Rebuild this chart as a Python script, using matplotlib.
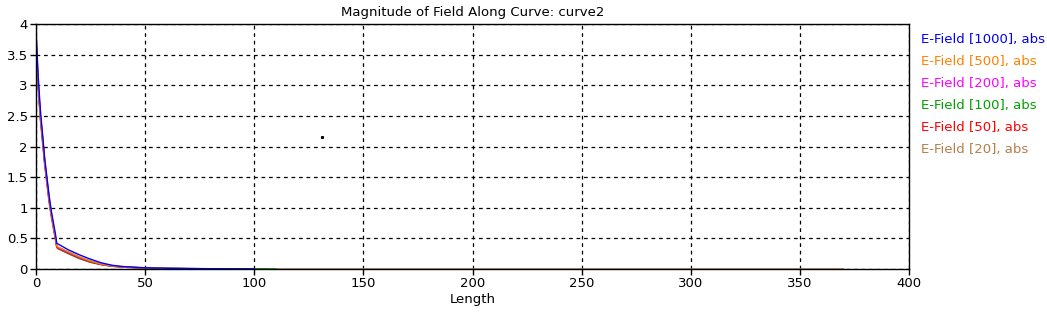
import matplotlib
matplotlib.use("Agg")
from matplotlib import pyplot as plt

plt.rcParams['font.family'] = ['DejaVu Sans']

# sample positions along the curve (Length)
length = [0, 1, 2, 3, 4, 5, 6, 7, 8, 9, 9.5, 10, 12, 15, 20, 25, 30, 35, 40,
          45, 50, 60, 70, 80, 90, 100, 106, 110, 150, 200, 250, 300, 370]

# |E| per mesh setting
e_1000 = [3.9, 3.15, 2.6, 2.2, 1.8, 1.5, 1.2, 0.95, 0.75, 0.55, 0.42, 0.41, 0.37, 0.31, 0.23,
          0.16, 0.1, 0.06, 0.04, 0.03, 0.02, 0.012, 0.008, 0.005, 0.003, 0.002]
e_500 = [3.8, 3.05, 2.5, 2.15, 1.75, 1.45, 1.15, 0.9, 0.7, 0.5, 0.38, 0.36, 0.33, 0.28, 0.2,
         0.13, 0.08, 0.05, 0.035, 0.025, 0.018, 0.01]
e_200 = [3.8, 3.05, 2.5, 2.15, 1.75, 1.45, 1.15, 0.9, 0.7, 0.5, 0.37, 0.35, 0.32, 0.27, 0.19,
         0.13, 0.08, 0.05, 0.034, 0.025, 0.018]
e_100 = [3.75, 3.0, 2.5, 2.15, 1.75, 1.45, 1.15, 0.9, 0.7, 0.5, 0.37, 0.35, 0.31, 0.26, 0.18,
         0.12, 0.075, 0.045, 0.032, 0.024, 0.017, 0.01, 0.007, 0.004, 0.003, 0.002, 0.002, 0.001]
e_50 = [3.7, 3.0, 2.45, 2.1, 1.7, 1.4, 1.1, 0.88, 0.68, 0.48, 0.36, 0.34, 0.3, 0.25, 0.17,
        0.11, 0.07, 0.045, 0.03, 0.022, 0.016, 0.01, 0.006, 0.004, 0.003, 0.002, 0.001]
e_20 = [3.7, 2.95, 2.45, 2.05, 1.7, 1.4, 1.1, 0.85, 0.65, 0.45, 0.35, 0.33, 0.3, 0.25, 0.17,
        0.11, 0.07, 0.045, 0.03, 0.022, 0.016, 0.01, 0.006, 0.004, 0.003, 0.002, 0.001,
        0.001, 0.001, 0.001, 0.001, 0.001, 0.001]

series = [
    ("E-Field [20], abs", e_20, "#b57d4a"),
    ("E-Field [50], abs", e_50, "#ff0000"),
    ("E-Field [100], abs", e_100, "#00a000"),
    ("E-Field [200], abs", e_200, "#ff00ff"),
    ("E-Field [500], abs", e_500, "#ff8000"),
    ("E-Field [1000], abs", e_1000, "#0000ff"),
]

fig = plt.figure(figsize=(10.47, 3.2), dpi=100)
ax = fig.add_axes([36 / 1047, 51 / 320, 873 / 1047, 245 / 320])

for name, vals, col in series:
    ax.plot(length[:len(vals)], vals, color=col, lw=1.0)

# stray point in the original
ax.plot([131.2], [2.155], "s", color="black", ms=1.2)

ax.set_xlim(0, 400)
ax.set_ylim(0, 4)
ax.set_xticks(range(0, 401, 50))
ax.set_yticks([0, 0.5, 1, 1.5, 2, 2.5, 3, 3.5, 4])
ax.set_yticklabels(["0", "0.5", "1", "1.5", "2", "2.5", "3", "3.5", "4"])
ax.grid(True, color="black", ls=(0, (3, 3)), lw=0.9)
for s in ax.spines.values():
    s.set_color("black")
    s.set_linewidth(1.0)
ax.tick_params(axis="both", direction="out", length=4, width=1, labelsize=9.5, pad=2,
               color="black", labelcolor="black")
ax.set_xlabel("Length", fontsize=9.5, labelpad=2)
ax.set_title("Magnitude of Field Along Curve: curve2", fontsize=9.5, pad=6)

# legend as coloured text at the right
for i, (name, vals, col) in enumerate(reversed(series)):
    fig.text(921 / 1047, 1 - (40 + 22 * i) / 320, name, color=col, fontsize=9.5, va="center")

fig.savefig("out.png", dpi=100)
